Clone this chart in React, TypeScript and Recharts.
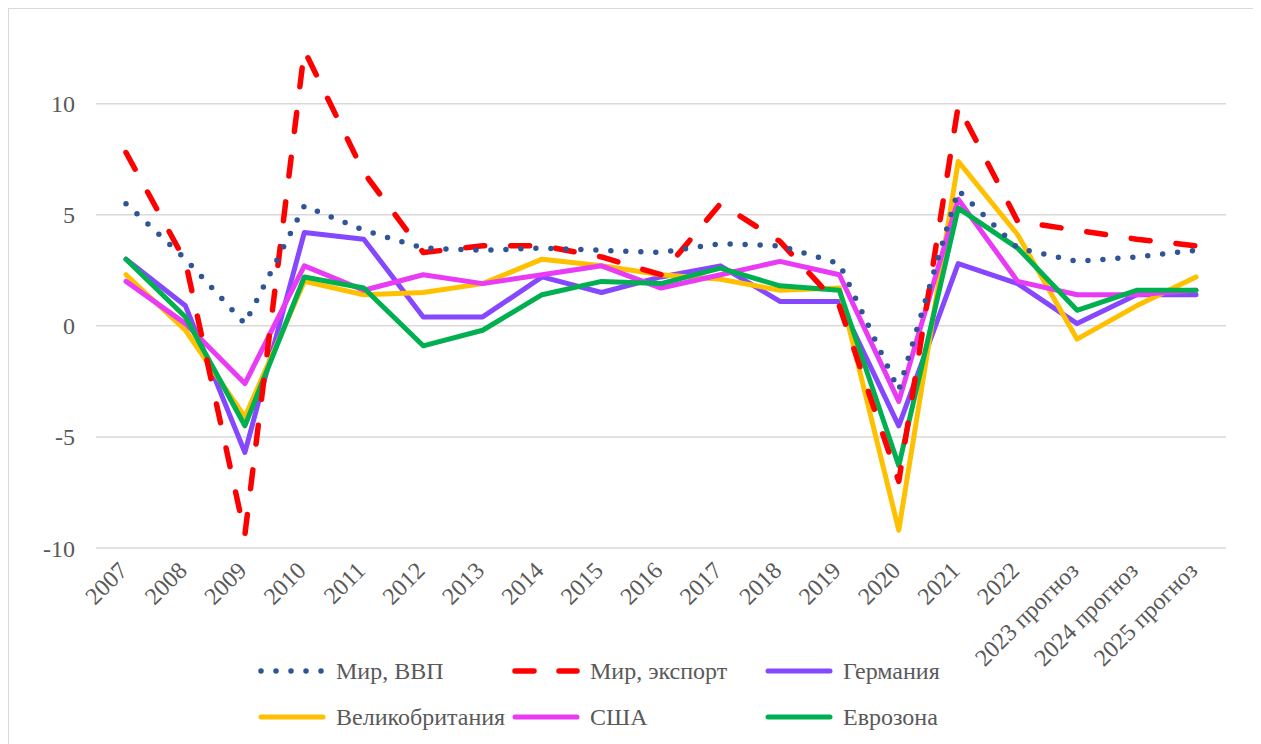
import React from "react";
import {
  LineChart,
  Line,
  XAxis,
  YAxis,
  CartesianGrid,
  Legend,
} from "recharts";

const categories = [
  "2007", "2008", "2009", "2010", "2011", "2012", "2013", "2014", "2015", "2016",
  "2017", "2018", "2019", "2020", "2021", "2022",
  "2023 прогноз", "2024 прогноз", "2025 прогноз",
];

const worldGdp = [5.5, 3.0, 0.1, 5.4, 4.3, 3.5, 3.4, 3.5, 3.4, 3.3, 3.7, 3.6, 2.8, -2.9, 6.1, 3.5, 2.9, 3.1, 3.4];
const worldExport = [7.8, 2.9, -9.4, 12.4, 6.9, 3.3, 3.6, 3.6, 3.1, 2.3, 5.5, 3.8, 0.9, -7.0, 9.9, 4.7, 4.3, 3.9, 3.6];
const germany = [3.0, 0.9, -5.7, 4.2, 3.9, 0.4, 0.4, 2.2, 1.5, 2.2, 2.7, 1.1, 1.1, -4.5, 2.8, 1.9, 0.1, 1.4, 1.4];
const uk = [2.3, -0.2, -4.1, 2.0, 1.4, 1.5, 1.9, 3.0, 2.7, 2.3, 2.1, 1.6, 1.7, -9.2, 7.4, 4.1, -0.6, 0.9, 2.2];
const usa = [2.0, 0.1, -2.6, 2.7, 1.6, 2.3, 1.9, 2.3, 2.7, 1.7, 2.3, 2.9, 2.3, -3.4, 5.7, 2.0, 1.4, 1.4, 1.6];
const eurozone = [3.0, 0.4, -4.5, 2.2, 1.7, -0.9, -0.2, 1.4, 2.0, 1.9, 2.6, 1.8, 1.6, -6.3, 5.3, 3.5, 0.7, 1.6, 1.6];

const yTicks = [-10, -5, 0, 5, 10];

const FONT = "Times New Roman, Liberation Serif, DejaVu Serif, serif";
const TEXT = "#595959";

// серии в порядке легенды
const series = [
  { key: "gdp", name: "Мир, ВВП", color: "#2F5597", dash: "0 15", width: 5.5 },
  { key: "export", name: "Мир, экспорт", color: "#FF0000", dash: "19 26", width: 5.5 },
  { key: "de", name: "Германия", color: "#8548FF", dash: undefined, width: 5 },
  { key: "uk", name: "Великобритания", color: "#FFC000", dash: undefined, width: 5 },
  { key: "us", name: "США", color: "#E93BF5", dash: undefined, width: 5 },
  { key: "ez", name: "Еврозона", color: "#00B050", dash: undefined, width: 5 },
];

const data = categories.map((cat, i) => ({
  cat,
  gdp: worldGdp[i],
  export: worldExport[i],
  de: germany[i],
  uk: uk[i],
  us: usa[i],
  ez: eurozone[i],
}));

const XTick = ({ x, y, payload }: any) => {
  const tx = x + 3;
  const ty = y + 24;
  return (
    <text
      x={tx}
      y={ty}
      transform={`rotate(-45, ${tx}, ${ty})`}
      textAnchor="end"
      fontSize={24}
      style={{ fontFamily: FONT }}
      fill={TEXT}
    >
      {payload.value}
    </text>
  );
};

const LegendBox = () => (
  <div
    style={{
      display: "grid",
      gridTemplateColumns: "254px 253px 254px",
      gridAutoRows: "46px",
      paddingLeft: 249,
      fontFamily: FONT,
      fontSize: 24,
      color: TEXT,
    }}
  >
    {series.map((s) => (
      <div key={s.key} style={{ display: "flex", alignItems: "center", whiteSpace: "nowrap" }}>
        <svg width={68} height={12} style={{ marginRight: 10, flexShrink: 0 }}>
          <line
            x1={3}
            y1={6}
            x2={65}
            y2={6}
            stroke={s.color}
            strokeWidth={s.width}
            strokeLinecap="round"
            strokeDasharray={s.dash === "19 26" ? "19 25" : s.dash}
          />
        </svg>
        <span>{s.name}</span>
      </div>
    ))}
  </div>
);

// линии стран рисуем первыми, мировые — поверх
const drawOrder = ["de", "uk", "us", "ez", "export", "gdp"];

export default function App() {
  return (
    <div
      style={{
        width: 1248,
        height: 740,
        border: "1px solid #d9d9d9",
        boxSizing: "border-box",
        background: "#fff",
        fontFamily: FONT,
      }}
    >
      <LineChart
        width={1246}
        height={738}
        data={data}
        margin={{ top: 28, right: 29, left: 0, bottom: 7 }}
        style={{ fontFamily: FONT }}
      >
        <CartesianGrid
          vertical={false}
          horizontalValues={yTicks}
          stroke="#d9d9d9"
          strokeWidth={1.5}
        />
        <XAxis
          dataKey="cat"
          interval={0}
          axisLine={false}
          tickLine={false}
          tickSize={0}
          tickMargin={0}
          height={100}
          padding={{ left: 30, right: 30 }}
          tick={<XTick />}
        />
        <YAxis
          domain={[-10, 13]}
          ticks={yTicks}
          axisLine={false}
          tickLine={false}
          tickSize={0}
          tickMargin={21}
          width={87}
          tick={{ fontSize: 24, fill: TEXT, style: { fontFamily: FONT } }}
        />
        <Legend
          verticalAlign="bottom"
          height={92}
          wrapperStyle={{ left: 0, width: 1246 }}
          content={<LegendBox />}
        />
        {drawOrder.map((k) => {
          const s = series.find((x) => x.key === k)!;
          return (
            <Line
              key={s.key}
              type="linear"
              dataKey={s.key}
              name={s.name}
              stroke={s.color}
              strokeWidth={s.width}
              strokeDasharray={s.dash}
              strokeLinecap="round"
              strokeLinejoin="round"
              dot={false}
              activeDot={false}
              isAnimationActive={false}
            />
          );
        })}
      </LineChart>
    </div>
  );
}
